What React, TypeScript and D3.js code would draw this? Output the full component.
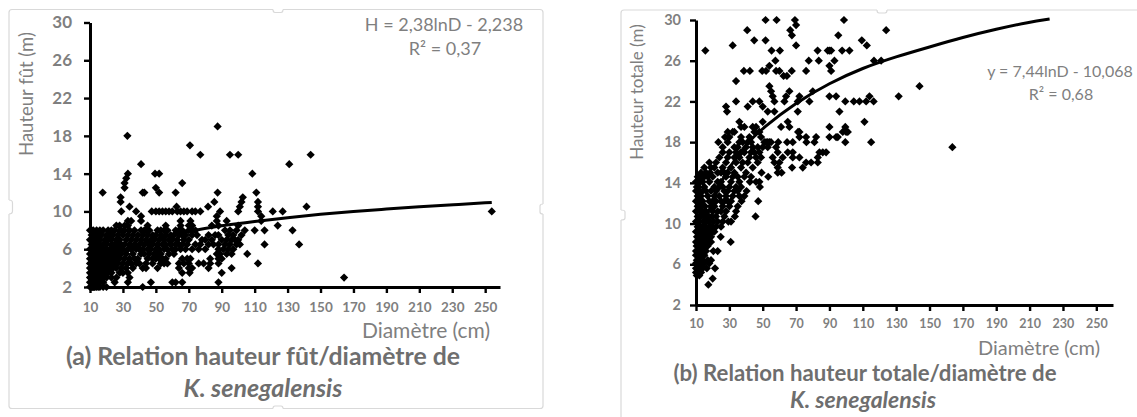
import React, { useEffect, useRef } from 'react';
import * as d3 from 'd3';

const xTicks = [10, 30, 50, 70, 90, 110, 130, 150, 170, 190, 210, 230, 250];
const yTicks = [2, 6, 10, 14, 18, 22, 26, 30];

// panel (a): stem height (m) -> diameters (cm)
const stemRows: [number, number[]][] = [
  [2, [10, 10.5, 11, 11.5, 12, 12.5, 13, 14, 15, 16, 18, 20, 42]],
  [2.5, [10, 11, 12, 13, 14, 15, 16, 18, 25, 33, 47, 60, 62, 66, 88]],
  [3, [10, 10.5, 11, 12, 13, 14, 15, 16, 17, 18, 20, 23, 26, 34, 164.3]],
  [3.5, [10, 11, 12, 13, 14, 15, 16, 17, 18, 19, 21, 23, 28, 30, 33, 66, 70.5, 90]],
  [4, [10, 10.5, 11, 12, 12.5, 13, 14, 15, 16, 17, 18, 19, 20, 22, 24, 26, 29, 32, 36, 42, 44, 51, 64, 70, 72, 82, 96]],
  [4.5, [10, 11, 12, 13, 14, 15, 17, 18, 19, 21, 23, 25, 27, 30, 33, 35, 38, 40, 44, 48, 53, 55, 57, 64, 67, 70, 76, 79, 83, 88, 112]],
  [5, [10, 11, 12, 13, 14, 15, 16, 18, 20, 22, 24, 26, 28, 31, 34, 37, 39, 45, 48, 50, 52, 54, 56, 66, 69, 71, 83, 88, 90]],
  [5.5, [10, 12, 13, 14, 16, 17, 19, 21, 23, 25, 27, 29, 32, 36, 41, 43, 46, 49, 51, 53, 58, 61, 87, 89, 93, 96, 105.5]],
  [6, [10, 11, 12, 14, 15, 17, 18, 20, 22, 24, 26, 28, 30, 33, 35, 38, 40, 42, 45, 47, 50, 52, 55, 57, 60, 62, 65, 68, 72, 76, 80, 88, 91, 94, 97]],
  [6.5, [11, 13, 15, 16, 18, 20, 23, 25, 27, 29, 31, 34, 37, 40, 43, 46, 48, 51, 54, 56, 59, 62, 64, 66, 69, 74, 77, 82, 85, 88, 92, 95, 99, 101, 116, 137]],
  [7, [10, 12, 14, 16, 19, 21, 23, 26, 28, 32, 35, 38, 41, 44, 47, 49, 52, 55, 58, 60, 63, 67, 70, 78, 80, 84, 90, 93, 96, 98, 100]],
  [7.5, [11, 13, 15, 17, 20, 22, 24, 27, 30, 33, 36, 39, 42, 45, 48, 50, 53, 56, 59, 61, 64, 66, 68, 72, 75, 82, 86, 88, 94, 97, 102]],
  [8, [10, 11, 12, 14, 16, 18, 21, 23, 25, 28, 29, 31, 34, 37, 41, 43, 44, 46, 51, 53, 55, 57, 62, 64, 66, 70, 72, 74, 92, 95, 99, 104, 110, 116, 133]],
  [8.5, [26, 28, 31, 33, 45, 56, 65, 70, 72, 84, 88, 100, 124]],
  [9, [33, 35, 41, 65, 71, 87, 93, 114]],
  [9.5, [41, 87, 114]],
  [10, [29, 38, 47.5, 50, 52, 54, 56, 58, 60, 63, 65, 67, 69, 72, 74, 77, 89, 100, 112, 121, 127, 254]],
  [10.5, [34, 62.6, 81.7, 101, 112, 141.5]],
  [11, [28.6, 85.5, 102, 112]],
  [11.5, [28.6, 102.8]],
  [12, [17.7, 42, 43, 52, 62, 87.5, 111]],
  [12.5, [31, 50]],
  [13, [31, 66]],
  [13.5, [32]],
  [14, [33, 49.5, 52, 108.6]],
  [15, [41, 131]],
  [16, [77, 95, 100, 144]],
  [17, [70.7]],
  [18, [32.7]],
  [19, [87.5]],
];

// panel (b): total height (m) -> diameters (cm)
const totalRows: [number, number[]][] = [
  [4, [17.4]],
  [4.6, [20]],
  [4.9, [10.5, 12]],
  [5.2, [10, 11.5, 13]],
  [5.6, [10, 11, 12.5, 14, 16.5, 21.4]],
  [6.1, [10, 10.8, 12, 13.3, 15, 18]],
  [6.4, [10.5, 11.7, 14, 17, 19]],
  [6.9, [10, 11, 12.4, 13.6, 15]],
  [7.3, [10, 11.2, 12.3, 13.4, 14.6, 16, 20.4, 23]],
  [7.8, [10.4, 11.7, 13, 14.2, 15.5, 17]],
  [8.2, [10, 11, 12.2, 13.6, 15, 16.3, 18, 19, 30.8]],
  [8.7, [10.6, 12, 13.4, 14.7, 16, 17.4, 19, 24.8]],
  [9.2, [10, 11.4, 13, 14.5, 15.8, 17.2, 18.6, 20, 21]],
  [9.7, [11, 12.5, 14, 15.6, 17.8, 19.5, 22, 25]],
  [10.2, [10, 12, 14.4, 16.2, 18, 20.5, 23, 26, 29.4, 31]],
  [10.7, [11, 13, 15, 17.5, 19.5, 22, 27, 33.3, 45.7]],
  [11.2, [10, 12.4, 14, 16, 20, 23, 25, 28, 34]],
  [11.7, [11, 13, 15.4, 19, 21, 26, 30, 35]],
  [12.2, [10, 12, 14, 18, 20, 22, 25, 27, 29, 31, 37.3, 47.3]],
  [12.7, [11, 13, 17, 21, 24, 28, 32, 36, 39]],
  [13.2, [10, 12, 14, 16, 19, 22, 27, 29, 33, 35, 40.3]],
  [13.6, [10.5, 11.5, 15, 21, 24, 26, 30, 34, 37, 48.3]],
  [14.1, [10, 11, 12.5, 14, 18, 23, 25, 31, 36, 42.3, 46, 48]],
  [14.6, [11, 13, 15, 17, 20, 28, 32, 35, 39, 43, 53.3]],
  [15, [13, 16, 18.5, 23, 25, 27, 29, 33, 40, 49.3, 59, 61.3]],
  [15.5, [15, 19, 21, 26, 31, 37, 44, 59, 67.6, 74]],
  [16, [18, 22, 28, 34, 38, 41, 47, 57, 60, 76, 79, 83]],
  [16.5, [24, 29, 33, 36, 42, 46, 49, 56, 62, 68, 72, 83]],
  [17, [26, 30, 34, 37, 39, 43, 45, 48, 59, 65, 68, 84, 86, 88]],
  [17.5, [26, 33, 35, 40, 44, 47, 50, 53, 58, 163.7]],
  [18, [23.4, 29, 36, 38, 41, 43, 51, 52, 53, 54, 55, 59.3, 64.6, 68, 76.2, 81, 99.5, 115]],
  [18.5, [27.4, 30, 37, 42, 49, 72, 76, 82, 90, 94, 95]],
  [19, [29, 32, 33, 45, 48, 71.2, 72, 98, 100, 101]],
  [19.5, [37, 39, 44, 46, 61, 66, 90, 99.5]],
  [20, [36, 50, 65, 111]],
  [21, [28.6, 53, 57, 71, 96]],
  [21.5, [28, 41, 50]],
  [22, [34, 44, 48, 57, 63, 71, 78, 99.5, 104.6, 108, 112, 116.5]],
  [22.5, [56, 64, 72, 90, 94, 114, 131.5]],
  [23, [55, 66, 80]],
  [23.5, [54, 144]],
  [24, [34]],
  [24.5, [62.5, 64.5]],
  [25, [38.7, 42.3, 49.7, 52, 58, 60, 67.4, 76, 91]],
  [25.5, [54, 90]],
  [26, [57.6, 77.6, 83.6, 93, 116.7, 121]],
  [27, [15.6, 55.3, 60.3, 82.9, 89, 90, 91, 97.6, 102]],
  [27.5, [32, 70, 112.4]],
  [28, [44.9, 51.7, 109.4]],
  [28.5, [67.5, 95.3]],
  [29, [40.7, 66.5, 124]],
  [29.5, [70]],
  [30, [51.7, 58.3, 69.3, 98.7]],
];

const stemTrendD = [10, 20, 30, 50, 70, 90, 110, 130, 150, 170, 190, 210, 230, 254];
const stemTrendH = [3.2, 4.9, 5.9, 7.1, 7.9, 8.5, 8.95, 9.35, 9.7, 10, 10.25, 10.5, 10.7, 10.95];
const totalTrendD = [10, 20, 30, 40, 50, 70, 90, 110, 130, 150, 170, 190, 210, 222];
const totalTrendH = [7.4, 12.6, 15.6, 17.8, 19.4, 21.9, 23.8, 25.3, 26.4, 27.35, 28.3, 29.1, 29.8, 30.1];

const W = 1137;
const H = 417;
const FONT = 'Lato, "Open Sans", sans-serif';
const BORDER = '#d9d9d9';
const GREY = '#7f7f7f';
const TITLE_GREY = '#6e6e6e';

type Panel = {
  rows: [number, number[]][];
  trendD: number[];
  trendH: number[];
  xRange: [number, number];
  xMax: number;
  yRange: [number, number];
  yFont: number;
  xFont: number;
  yPad: number;
  xPad: number;
};

const drawPanel = (svg: any, p: Panel) => {
  const x = d3.scaleLinear().domain([10, p.xMax]).range(p.xRange);
  const y = d3.scaleLinear().domain([2, 30]).range(p.yRange);

  const line = d3.line<number>()
    .x(d => x(d))
    .y((_, i) => y(p.trendH[i]))
    .curve(d3.curveBasis);
  svg.append('path')
    .attr('d', line(p.trendD))
    .attr('fill', 'none')
    .attr('stroke', 'black')
    .attr('stroke-width', 3);

  const pts = p.rows.flatMap(([h, ds]) => ds.map(d => [d, h]));
  const diamond = d3.symbol(d3.symbolSquare, 34)();
  svg.append('g').selectAll('path')
    .data(pts)
    .enter()
    .append('path')
    .attr('d', diamond)
    .attr('transform', (d: number[]) => `translate(${x(d[0])},${y(d[1])}) rotate(45)`)
    .attr('fill', 'black');

  const xAxis = d3.axisBottom(x).tickValues(xTicks).tickSize(6).tickSizeOuter(0).tickPadding(p.xPad);
  const yAxis = d3.axisLeft(y).tickValues(yTicks).tickSize(6).tickSizeOuter(0).tickPadding(p.yPad);
  [
    svg.append('g').attr('transform', `translate(0,${p.yRange[0]})`).call(xAxis),
    svg.append('g').attr('transform', `translate(${p.xRange[0]},0)`).call(yAxis),
  ].forEach((g, i) => {
    g.selectAll('line').attr('stroke', 'black').attr('stroke-width', 2.4);
    g.select('.domain').attr('stroke', 'black').attr('stroke-width', 3);
    g.selectAll('text')
      .attr('fill', GREY)
      .attr('font-family', FONT)
      .attr('font-weight', 700)
      .attr('font-size', i === 0 ? p.xFont : p.yFont);
  });
};

const label = (svg: any, text: string, px: number, py: number, size: number, opts: any = {}) =>
  svg.append('text')
    .text(text)
    .attr('x', px)
    .attr('y', py)
    .attr('font-family', FONT)
    .attr('font-size', size)
    .attr('font-weight', opts.weight || 400)
    .attr('font-style', opts.italic ? 'italic' : 'normal')
    .attr('fill', opts.fill || GREY)
    .attr('text-anchor', opts.anchor || 'middle')
    .attr('transform', opts.rotate ? `rotate(-90 ${px} ${py})` : null);

const App = () => {
  const svgRef = useRef<SVGSVGElement>(null);

  useEffect(() => {
    const svg = d3.select(svgRef.current);
    svg.selectAll('*').remove();

    // chart frames with their little resize handles
    svg.append('path')
      .attr('d', 'M12 9.5H273M283 9.5H540Q543 9.5 543 12.5V204M543 214V406Q543 408.5 540 408.5H283M273 408.5H12Q9 408.5 9 406V214M9 200V12.5Q9 9.5 12 9.5'
        + 'M273 9.5Q273 12.5 275 12.5H281Q283 12.5 283 9.5M273 408.5Q273 406 275 406H281Q283 406 283 408.5M9 200Q12.5 200 12.5 203V211Q12.5 214 9 214M543 204Q540 204 540 206V212Q540 214 543 214')
      .attr('fill', 'none')
      .attr('stroke', BORDER)
      .attr('stroke-width', 1.2);
    svg.append('path')
      .attr('d', 'M621 417V220M621 210V13Q621 10 624 10H877M887 10H1137'
        + 'M877 10Q877 13 879 13H885Q887 13 887 10M621 210Q625 210 625 212V218Q625 220 621 220')
      .attr('fill', 'none')
      .attr('stroke', BORDER)
      .attr('stroke-width', 1.2);

    drawPanel(svg, {
      rows: stemRows, trendD: stemTrendD, trendH: stemTrendH,
      xRange: [90, 500], xMax: 259, yRange: [287, 22.5], yFont: 17, xFont: 13.5, yPad: 12, xPad: 9,
    });
    drawPanel(svg, {
      rows: totalRows, trendD: totalTrendD, trendH: totalTrendH,
      xRange: [696, 1113], xMax: 260, yRange: [305, 20], yFont: 14.5, xFont: 12.5, yPad: 9, xPad: 8,
    });

    // panel (a) texts
    label(svg, 'Hauteur fût (m)', 33, 94, 18.5, { rotate: true });
    label(svg, 'H = 2,38lnD - 2,238', 444, 31, 18);
    label(svg, 'R² = 0,37', 445, 55, 18);
    label(svg, 'Diamètre (cm)', 426, 338, 21);
    label(svg, '(a) Relation hauteur fût/diamètre de', 263, 365, 24.8, { weight: 700, fill: TITLE_GREY });
    label(svg, 'K. senegalensis', 263, 397, 25, { weight: 700, italic: true, fill: TITLE_GREY });

    // panel (b) texts
    label(svg, 'Hauteur totale (m)', 643, 92, 17, { rotate: true });
    label(svg, 'y = 7,44lnD - 10,068', 1060, 77, 16);
    label(svg, 'R² = 0,68', 1061, 100, 16);
    label(svg, 'Diamètre (cm)', 1039, 355, 20);
    label(svg, '(b) Relation hauteur totale/diamètre de', 865, 381, 22.2, { weight: 700, fill: TITLE_GREY });
    label(svg, 'K. senegalensis', 863, 408, 23, { weight: 700, italic: true, fill: TITLE_GREY });
  }, []);

  return (
    <svg
      ref={svgRef}
      width={W}
      height={H}
      style={{ position: 'absolute', left: 0, top: 0, display: 'block', background: 'white' }}
    />
  );
};

export default App;
